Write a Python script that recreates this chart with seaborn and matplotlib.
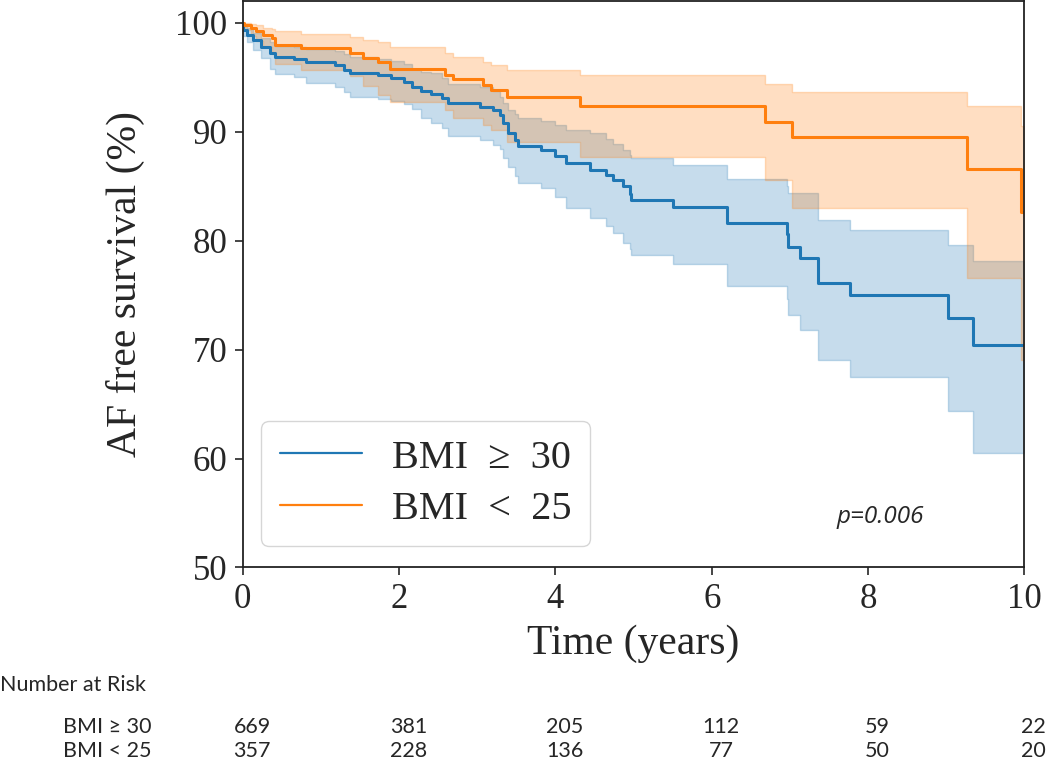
import numpy as np
import pandas as pd
import matplotlib
matplotlib.use("Agg")
import matplotlib.pyplot as plt
import matplotlib.transforms as mtransforms
import seaborn as sns

# Kaplan-Meier estimates (step changes, % free of AF)
obese_t = [0.00, 0.01, 0.06, 0.13, 0.24, 0.35, 0.41, 0.66, 0.81, 1.18, 1.30, 1.37,
           1.73, 1.90, 2.07, 2.16, 2.28, 2.41, 2.55, 2.63, 3.03, 3.20, 3.29, 3.33,
           3.40, 3.48, 3.52, 3.82, 3.99, 4.14, 4.44, 4.65, 4.74, 4.86, 4.95, 4.97,
           5.51, 6.19, 6.96, 6.98, 7.13, 7.36, 7.77, 9.02, 9.34, 10.0]
obese_s = [100.0, 99.3, 98.9, 98.4, 97.8, 97.2, 96.9, 96.7, 96.4, 96.1, 95.7, 95.4,
           95.2, 94.9, 94.6, 94.1, 93.7, 93.5, 93.1, 92.6, 92.3, 92.0, 91.5, 90.8,
           89.85, 89.2, 88.7, 88.3, 87.8, 87.1, 86.5, 86.0, 85.6, 85.0, 84.3, 83.7,
           83.06, 81.6, 80.6, 79.45, 78.4, 76.1, 75.0, 72.9, 70.4, 70.4]
obese_lo = [100.0, 98.8, 98.2, 97.5, 96.8, 95.8, 95.3, 95.0, 94.5, 94.1, 93.6, 93.2,
            93.0, 92.8, 92.5, 92.1, 91.3, 90.8, 90.3, 89.6, 89.2, 88.8, 88.4, 87.6,
            86.8, 85.9, 85.3, 84.8, 84.0, 83.0, 82.1, 81.3, 80.7, 79.8, 79.2, 78.7,
            77.9, 75.8, 74.6, 73.2, 71.8, 69.05, 67.5, 64.4, 60.55, 60.55]
obese_hi = [100.0, 99.7, 99.5, 99.1, 98.6, 98.2, 97.9, 97.8, 97.6, 97.4, 97.1, 96.9,
            96.7, 96.5, 96.2, 95.8, 95.5, 95.4, 94.9, 94.4, 94.1, 93.7, 93.2, 92.6,
            92.0, 91.6, 91.3, 91.0, 90.6, 90.2, 89.85, 89.3, 88.9, 88.3, 87.9, 87.55,
            86.9, 85.7, 85.0, 84.35, 84.35, 81.9, 81.0, 79.6, 78.1, 78.1]

normal_t = [0.00, 0.02, 0.11, 0.17, 0.26, 0.37, 0.41, 0.75, 1.37, 1.54, 1.73, 1.88,
            2.59, 2.69, 3.08, 3.18, 3.38, 4.31, 6.68, 7.03, 9.26, 9.96, 10.0]
normal_s = [100.0, 99.8, 99.5, 99.2, 98.9, 98.6, 98.0, 97.65, 97.2, 96.8, 96.4, 95.8,
            95.2, 94.8, 94.3, 93.8, 93.2, 92.4, 90.9, 89.5, 86.55, 82.6, 82.6]
normal_lo = [100.0, 99.3, 98.8, 98.3, 97.8, 97.1, 96.2, 95.7, 95.1, 94.2, 93.4, 92.7,
             92.0, 91.3, 90.6, 90.2, 89.1, 87.7, 85.6, 83.0, 76.55, 69.0, 69.0]
normal_hi = [100.0, 100.0, 99.9, 99.8, 99.5, 99.4, 99.2, 99.0, 98.7, 98.4, 98.2, 97.8,
             97.2, 96.9, 96.4, 96.1, 95.7, 95.2, 94.4, 93.6, 92.4, 90.5, 90.5]

groups = ["BMI  \u2265  30", "BMI  <  25"]
risk_labels = ["BMI \u2265 30", "BMI < 25"]
risk_times = [0, 2, 4, 6, 8, 10]
risk_obese = [669, 381, 205, 112, 59, 22]
risk_normal = [357, 228, 136, 77, 50, 20]
p_text = "p=0.006"

colors = ["#1f77b4", "#ff7f0e"]

sns.set_style("ticks")
plt.rcParams["font.family"] = ["Liberation Serif", "DejaVu Serif"]

fig = plt.figure(figsize=(10.5, 7.62), dpi=100)
ax = fig.add_axes([0.2311, 0.2553, 0.7446, 0.7434])

curves = [(obese_t, obese_s, obese_lo, obese_hi), (normal_t, normal_s, normal_lo, normal_hi)]
for (t, s, lo, hi), name, col in zip(curves, groups, colors):
    df = pd.DataFrame({"t": t, "s": s})
    sns.lineplot(data=df, x="t", y="s", estimator=None, drawstyle="steps-post",
                 color=col, linewidth=2.2, ax=ax, label=name)
    ax.fill_between(t, lo, hi, step="post", color=col, alpha=0.25, linewidth=1.0)

ax.set_xlim(0, 10)
ax.set_ylim(50, 102)
ax.set_xticks(risk_times)
ax.set_yticks([50, 60, 70, 80, 90, 100])
ax.tick_params(labelsize=25, length=6, width=1.2, direction="out", pad=5)
for sp in ax.spines.values():
    sp.set_visible(True)
    sp.set_linewidth(1.3)
    sp.set_color("#222222")
ax.set_xlabel("Time (years)", fontsize=30, labelpad=6)
ax.set_ylabel("AF free survival (%)", fontsize=30, labelpad=22)

leg = ax.legend(loc="lower left", bbox_to_anchor=(0.024, 0.038), borderaxespad=0,
                fontsize=29, handlelength=2.05, handletextpad=0.75, frameon=True,
                fancybox=True, borderpad=0.45, labelspacing=0.35)
leg.get_frame().set_edgecolor("#cccccc")
leg.get_frame().set_linewidth(1.0)
for h in leg.get_lines():
    h.set_linewidth(1.6)

ax.text(7.6, 54.6, p_text, fontsize=17.5, style="italic", family="Open Sans",
        ha="left", va="center")

# number-at-risk table under the axes
trans = mtransforms.blended_transform_factory(ax.transData, fig.transFigure)
fig.text(0.0, 1 - 685 / 762, "Number at Risk", fontsize=15.5, family="Lato",
         ha="left", va="center")
for row, (lab, counts) in enumerate(zip(risk_labels, [risk_obese, risk_normal])):
    y = 1 - (727 + 24 * row) / 762
    fig.text(0.06, y, lab, fontsize=15.5, family="Lato", ha="left", va="center")
    for tt, n in zip(risk_times, counts):
        ax.text(tt + 0.12, y, str(n), fontsize=15.5, family="Lato",
                ha="center", va="center", transform=trans)

fig.savefig("out.png", dpi=100)
